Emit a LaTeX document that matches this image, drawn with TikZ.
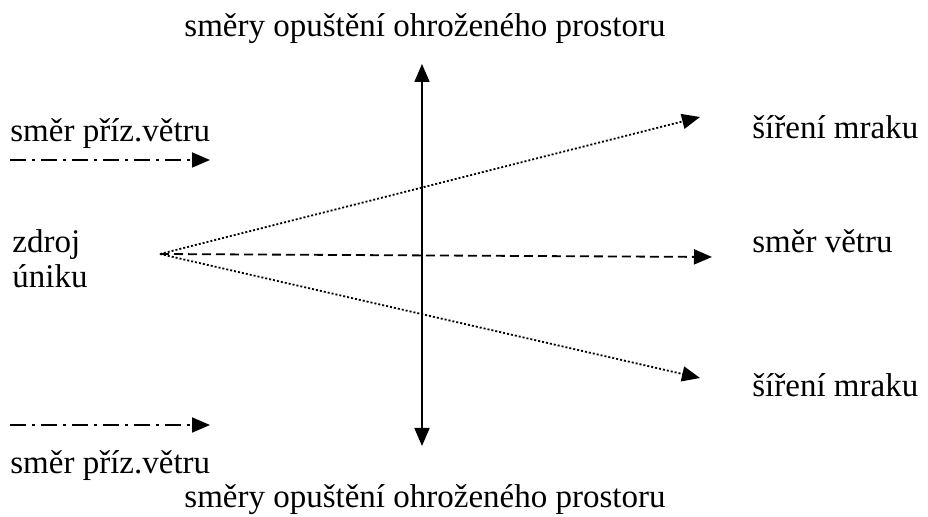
\documentclass[tikz,border=0pt]{standalone}
\usepackage{fontspec}
\setmainfont{Liberation Serif}
\usetikzlibrary{arrows.meta}

\begin{document}
\begin{tikzpicture}[
    x=0.5pt, y=-0.5pt,
    txt/.style={anchor=base west, inner sep=0pt, font=\fontsize{16.5}{19}\selectfont},
    tip/.style={-{Triangle[length=9pt, width=7.5pt]}, line width=0.9pt},
    dashdotarrow/.style={tip, dash pattern=on 8pt off 3pt on 1.5pt off 3pt},
    dashedarrow/.style={tip, dash pattern=on 4.5pt off 2.5pt},
    dottedarrow/.style={tip, dash pattern=on 1pt off 1pt}
]
    \useasboundingbox (0,0) rectangle (928,517);

    % Escape directions
    \node[txt, anchor=base] (esc_top) at (425,37) {směry opuštění ohroženého prostoru};
    \node[txt, anchor=base] (esc_bot) at (425,508) {směry opuštění ohroženého prostoru};
    \coordinate (v_top) at (422,64);
    \coordinate (v_bot) at (422,446);
    \draw[tip, {Triangle[length=9pt, width=7.5pt]}-{Triangle[length=9pt, width=7.5pt]}] (v_top) -- (v_bot);

    % Side wind
    \node[txt] (side_top) at (10,142) {směr příz.větru};
    \node[txt] (side_bot) at (10,474) {směr příz.větru};
    \coordinate (st_a) at (10,160);
    \coordinate (st_b) at (210,160);
    \coordinate (sb_a) at (10,425);
    \coordinate (sb_b) at (210,425);
    \draw[dashdotarrow] (st_a) -- (st_b);
    \draw[dashdotarrow] (sb_a) -- (sb_b);

    % Source
    \node[txt] (src1) at (12,253) {zdroj};
    \node[txt] (src2) at (12,288) {úniku};
    \coordinate (src) at (160,254);

    % Cloud and wind
    \node[txt] (cloud_top) at (752,139) {šíření mraku};
    \node[txt] (wind) at (752,253) {směr větru};
    \node[txt] (cloud_bot) at (752,397) {šíření mraku};
    \coordinate (ct) at (700,117);
    \coordinate (w) at (712,257);
    \coordinate (cb) at (700,378);
    \draw[dottedarrow] (src) -- (ct);
    \draw[dashedarrow] (src) -- (w);
    \draw[dottedarrow] (src) -- (cb);
\end{tikzpicture}
\end{document}
